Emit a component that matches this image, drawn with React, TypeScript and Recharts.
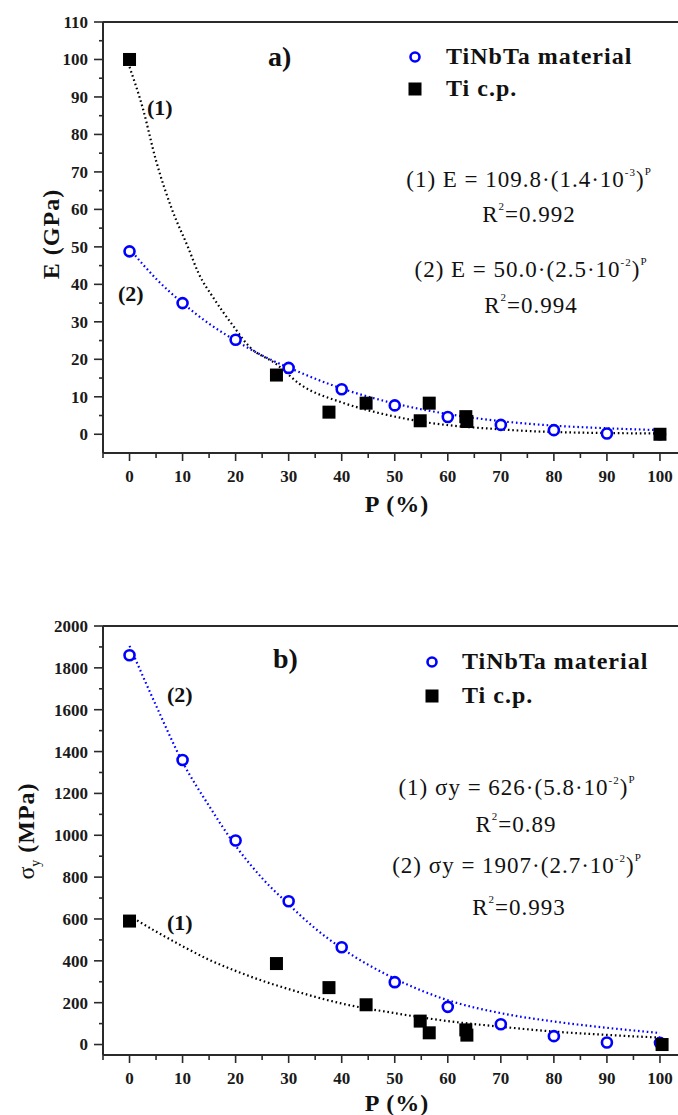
import React from 'react';
import { ComposedChart, Scatter, Line, XAxis, YAxis, ReferenceLine } from 'recharts';

const FONT = "'Liberation Serif', 'Times New Roman', serif";
const AXIS = '#2a2a2a';
const BLUE = '#0000ff';

// ---------- tick values ----------
const xTicks = [-5, 0, 5, 10, 15, 20, 25, 30, 35, 40, 45, 50, 55, 60, 65, 70, 75, 80, 85, 90, 95, 100];
const eTicks = [0, 5, 10, 15, 20, 25, 30, 35, 40, 45, 50, 55, 60, 65, 70, 75, 80, 85, 90, 95, 100, 105, 110];
const sTicks = [0, 100, 200, 300, 400, 500, 600, 700, 800, 900, 1000, 1100, 1200, 1300, 1400, 1500, 1600, 1700, 1800, 1900, 2000];

// ---------- chart a) E (GPa) ----------
const pTiNbTa = [0, 10, 20, 30, 40, 50, 60, 70, 80, 90, 100];
const eTiNbTa = [48.8, 35, 25.2, 17.7, 12, 7.7, 4.6, 2.5, 1.1, 0.2, 0];
const pTi = [0, 27.7, 37.6, 44.6, 54.8, 56.5, 63.4, 63.6, 100];
const eTi = [100, 15.8, 5.9, 8.3, 3.6, 8.3, 4.7, 3.4, 0];
const fitEpTi = [0, 2.5, 5, 8, 11, 13, 16, 19.5, 22.5, 27.7, 32, 40, 45, 55, 70, 80, 100];
const fitETi = [98, 87, 73, 60, 50, 43, 36, 29, 23.5, 18.7, 13.5, 8.5, 6.4, 3.4, 1.3, 0.6, 0.2];
const fitEpTiNbTa = [0, 5, 10, 15, 20, 25, 30, 40, 50, 60, 70, 80, 90, 100];
const fitETiNbTa = [49.5, 41.5, 35, 29.5, 25, 21, 17.8, 12.2, 8.2, 5.4, 3.5, 2.3, 1.6, 1.1];

// ---------- chart b) sigma_y (MPa) ----------
const sTiNbTa = [1860, 1360, 975, 685, 465, 298, 180, 97, 40, 10, 8];
const pTiB = [0, 27.7, 37.6, 44.6, 54.8, 56.5, 63.4, 63.6, 100.4];
const sTi = [590, 387, 272, 190, 112, 56, 70, 45, 0];
const fitSp = [0, 5, 10, 15, 20, 25, 30, 35, 40, 50, 60, 70, 80, 90, 100];
const fitSTi = [615, 540, 470, 405, 352, 305, 265, 228, 196, 150, 112, 85, 62, 46, 33];
const fitSTiNbTa = [1905, 1620, 1350, 1140, 950, 795, 670, 555, 460, 315, 212, 150, 110, 80, 55];

const pts = (xs: number[], ys: number[]) => xs.map((x, i) => ({ x, y: ys[i] }));

const Circ = (p: any) => (
  <circle cx={p.cx} cy={p.cy} r={5} fill="#fff" stroke={BLUE} strokeWidth={2.6} />
);
const Sq = (p: any) => <rect x={p.cx - 6.5} y={p.cy - 6.5} width={13} height={13} fill="#000" />;

const makeXTick = (step: number) => (p: any) => {
  const v = p.payload.value;
  const major = v % step === 0;
  return (
    <g>
      <line x1={p.x} x2={p.x} y1={p.y} y2={p.y + (major ? 8 : 5)} stroke={AXIS} strokeWidth={1.6} />
      {major && (
        <text x={p.x} y={p.y + 29} textAnchor="middle" fontFamily={FONT} fontWeight="bold" fontSize={17} fill="#1a1a1a">
          {v}
        </text>
      )}
    </g>
  );
};

const makeYTick = (step: number) => (p: any) => {
  const v = p.payload.value;
  const major = v % step === 0;
  return (
    <g>
      <line x1={p.x - (major ? 9 : 4)} x2={p.x} y1={p.y} y2={p.y} stroke={AXIS} strokeWidth={1.6} />
      {major && (
        <text x={p.x - 15} y={p.y} dy="0.35em" textAnchor="end" fontFamily={FONT} fontWeight="bold" fontSize={17} fill="#1a1a1a">
          {v}
        </text>
      )}
    </g>
  );
};

const xTick = makeXTick(10);
const eTick = makeYTick(10);
const sTick = makeYTick(200);

const axisLine = { stroke: AXIS, strokeWidth: 2 };

function Panel(props: {
  height: number; top: number; bottom: number; yDomain: [number, number]; yTicks: number[]; yTick: any;
  frameY: number; fitTi: any[]; fitTiNbTa: any[]; tinbta: any[]; ti: any[];
}) {
  return (
    <ComposedChart width={678} height={props.height} margin={{ top: props.top, right: 0, left: 43, bottom: props.bottom }}>
      <XAxis type="number" dataKey="x" domain={[-5, 103.4]} ticks={xTicks} interval={0} tickSize={0} tickMargin={0}
        tick={xTick} tickLine={false} axisLine={axisLine} height={30} allowDataOverflow />
      <YAxis type="number" dataKey="y" domain={props.yDomain} ticks={props.yTicks} interval={0} tickSize={0} tickMargin={0}
        tick={props.yTick} tickLine={false} axisLine={axisLine} width={60} allowDataOverflow />
      <ReferenceLine y={props.frameY} stroke={AXIS} strokeWidth={2} ifOverflow="visible" />
      <Line data={props.fitTi} dataKey="y" type="monotone" stroke="#000" strokeWidth={2.2} strokeDasharray="1.6 2.8"
        dot={false} activeDot={false} isAnimationActive={false} />
      <Line data={props.fitTiNbTa} dataKey="y" type="monotone" stroke={BLUE} strokeWidth={2.2} strokeDasharray="1.6 2.8"
        dot={false} activeDot={false} isAnimationActive={false} />
      <Scatter data={props.tinbta} dataKey="y" shape={Circ} isAnimationActive={false} />
      <Scatter data={props.ti} dataKey="y" shape={Sq} isAnimationActive={false} />
    </ComposedChart>
  );
}

const SUP = 11;
const EQ = 23;
const LS = 1;

function Overlay() {
  const t = { fontFamily: FONT, fill: '#111' } as const;
  return (
    <svg width={678} height={1115} style={{ position: 'absolute', left: 0, top: 0, pointerEvents: 'none' }}>
      {/* ---- panel a ---- */}
      <text x={59} y={234} transform="rotate(-90 59 234)" textAnchor="middle" {...t} fontWeight="bold" fontSize={24} letterSpacing={1}>E (GPa)</text>
      <text x={397} y={512} textAnchor="middle" {...t} fontWeight="bold" fontSize={24} letterSpacing={1}>P (%)</text>
      <text x={268} y={66} {...t} fontWeight="bold" fontSize={28}>a)</text>
      <text x={147} y={115} {...t} fontWeight="bold" fontSize={22}>(1)</text>
      <text x={118} y={301} {...t} fontWeight="bold" fontSize={22}>(2)</text>
      <circle cx={415} cy={57} r={4.5} fill="#fff" stroke={BLUE} strokeWidth={2.6} />
      <text x={446} y={64} {...t} fontWeight="bold" fontSize={24} letterSpacing={1}>TiNbTa material</text>
      <rect x={408.5} y={82.5} width={13} height={13} fill="#000" />
      <text x={446} y={96} {...t} fontWeight="bold" fontSize={24} letterSpacing={1}>Ti c.p.</text>
      <text x={529} y={187} textAnchor="middle" {...t} fontSize={EQ} letterSpacing={LS}>
        (1) E = 109.8·(1.4·10<tspan fontSize={SUP} dy={-11}>-3</tspan><tspan dy={11}>)</tspan><tspan fontSize={SUP} dy={-12}>P</tspan>
      </text>
      <text x={529} y={222} textAnchor="middle" {...t} fontSize={EQ} letterSpacing={LS}>
        R<tspan fontSize={SUP} dy={-12}>2</tspan><tspan dy={12}>=0.992</tspan>
      </text>
      <text x={531} y={277} textAnchor="middle" {...t} fontSize={EQ} letterSpacing={LS}>
        (2) E = 50.0·(2.5·10<tspan fontSize={SUP} dy={-11}>-2</tspan><tspan dy={11}>)</tspan><tspan fontSize={SUP} dy={-12}>P</tspan>
      </text>
      <text x={531} y={313} textAnchor="middle" {...t} fontSize={EQ} letterSpacing={LS}>
        R<tspan fontSize={SUP} dy={-12}>2</tspan><tspan dy={12}>=0.994</tspan>
      </text>

      {/* ---- panel b ---- */}
      <text x={34} y={831} transform="rotate(-90 34 831)" textAnchor="middle" {...t} fontSize={24}>
        σ<tspan fontSize={14} dy={6}>y</tspan><tspan dy={-6} fontWeight="bold" letterSpacing={1}> (MPa)</tspan>
      </text>
      <text x={397} y={1111} textAnchor="middle" {...t} fontWeight="bold" fontSize={24} letterSpacing={1}>P (%)</text>
      <text x={273} y={668} {...t} fontWeight="bold" fontSize={28}>b)</text>
      <text x={167} y={702} {...t} fontWeight="bold" fontSize={22}>(2)</text>
      <text x={167} y={930} {...t} fontWeight="bold" fontSize={22}>(1)</text>
      <circle cx={432} cy={662} r={4.5} fill="#fff" stroke={BLUE} strokeWidth={2.6} />
      <text x={462} y={669} {...t} fontWeight="bold" fontSize={24} letterSpacing={1}>TiNbTa material</text>
      <rect x={425.5} y={689.5} width={13} height={13} fill="#000" />
      <text x={462} y={703} {...t} fontWeight="bold" fontSize={24} letterSpacing={1}>Ti c.p.</text>
      <text x={517} y={795} textAnchor="middle" {...t} fontSize={EQ} letterSpacing={LS}>
        (1) σy = 626·(5.8·10<tspan fontSize={SUP} dy={-11}>-2</tspan><tspan dy={11}>)</tspan><tspan fontSize={SUP} dy={-12}>P</tspan>
      </text>
      <text x={516} y={832} textAnchor="middle" {...t} fontSize={EQ} letterSpacing={LS}>
        R<tspan fontSize={SUP} dy={-12}>2</tspan><tspan dy={12}>=0.89</tspan>
      </text>
      <text x={517} y={873} textAnchor="middle" {...t} fontSize={EQ} letterSpacing={LS}>
        (2) σy = 1907·(2.7·10<tspan fontSize={SUP} dy={-11}>-2</tspan><tspan dy={11}>)</tspan><tspan fontSize={SUP} dy={-12}>P</tspan>
      </text>
      <text x={519} y={915} textAnchor="middle" {...t} fontSize={EQ} letterSpacing={LS}>
        R<tspan fontSize={SUP} dy={-12}>2</tspan><tspan dy={12}>=0.993</tspan>
      </text>
    </svg>
  );
}

export default function App() {
  return (
    <div style={{ position: 'absolute', left: 0, top: 0, width: 678, height: 1115, overflow: 'hidden', background: '#fff' }}>
      <div style={{ position: 'absolute', left: 0, top: 0 }}>
        <Panel height={500} top={22} bottom={17} yDomain={[-5, 110]} yTicks={eTicks} yTick={eTick} frameY={110}
          fitTi={pts(fitEpTi, fitETi)} fitTiNbTa={pts(fitEpTiNbTa, fitETiNbTa)}
          tinbta={pts(pTiNbTa, eTiNbTa)} ti={pts(pTi, eTi)} />
      </div>
      <div style={{ position: 'absolute', left: 0, top: 560 }}>
        <Panel height={555} top={66} bottom={30} yDomain={[-50, 2000]} yTicks={sTicks} yTick={sTick} frameY={2000}
          fitTi={pts(fitSp, fitSTi)} fitTiNbTa={pts(fitSp, fitSTiNbTa)}
          tinbta={pts(pTiNbTa, sTiNbTa)} ti={pts(pTiB, sTi)} />
      </div>
      <Overlay />
    </div>
  );
}
